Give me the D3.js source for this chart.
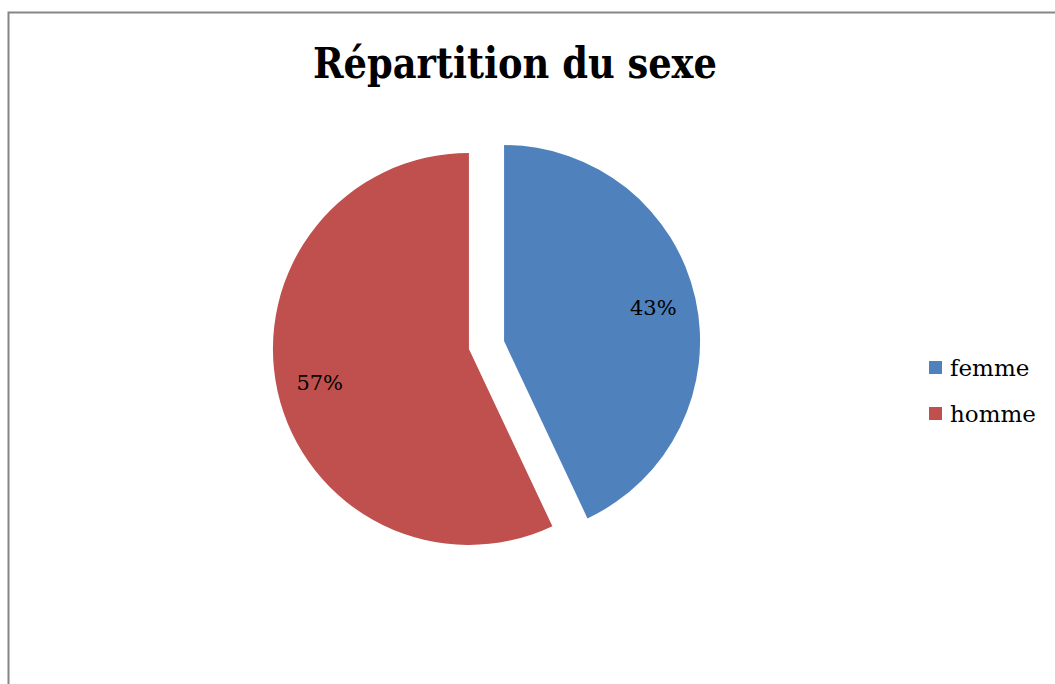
<!DOCTYPE html>
<html>
<head>
<meta charset="utf-8">
<script src="https://cdn.jsdelivr.net/npm/d3@7"></script>
<style>
  body { margin: 0; background: #fff; }
  svg { display: block; }
</style>
</head>
<body>
<script>
var categories = ["femme", "homme"];
var values = [43, 57];
var colors = ["#4F81BD", "#C0504D"];
var labels = ["43%", "57%"];

var width = 1055, height = 684;
var cx = 486.5, cy = 345, radius = 196, explode = 18;

var svg = d3.select("body").append("svg").attr("width", width).attr("height", height);

// chart frame
svg.append("rect").attr("x", 8.5).attr("y", 12.5).attr("width", 1100).attr("height", 700)
  .attr("fill", "#fff").attr("stroke", "#868686").attr("stroke-width", 2);

svg.append("text").attr("x", 313).attr("y", 78)
  .attr("textLength", 404).attr("lengthAdjust", "spacingAndGlyphs")
  .style("font-family", "'DejaVu Serif', serif").style("font-weight", "bold").style("font-size", "42px")
  .text("Répartition du sexe");

var pie = d3.pie().sort(null).value(function(d) { return d; });
var arcs = pie(values);
var arc = d3.arc().innerRadius(0).outerRadius(radius);
var labelArc = d3.arc().innerRadius(radius * 0.78).outerRadius(radius * 0.78);

var g = svg.append("g").attr("transform", "translate(" + cx + "," + cy + ")");

var slice = g.selectAll("g.slice").data(arcs).enter().append("g")
  .attr("transform", function(d) {
    var a = (d.startAngle + d.endAngle) / 2;
    return "translate(" + (Math.sin(a) * explode) + "," + (-Math.cos(a) * explode) + ")";
  });

slice.append("path").attr("d", arc).attr("fill", function(d, i) { return colors[i]; });

slice.append("text")
  .attr("transform", function(d) { return "translate(" + labelArc.centroid(d) + ")"; })
  .attr("text-anchor", "middle").attr("dy", "0.35em")
  .style("font-family", "'DejaVu Serif', serif").style("font-size", "21px").attr("fill", "#000")
  .text(function(d, i) { return labels[i]; });

var legend = svg.append("g").selectAll("g").data(categories).enter().append("g")
  .attr("transform", function(d, i) { return "translate(929," + (361 + i * 46) + ")"; });
legend.append("rect").attr("width", 13).attr("height", 13).attr("fill", function(d, i) { return colors[i]; });
legend.append("text").attr("x", 21).attr("y", 15)
  .style("font-family", "'DejaVu Serif', serif").style("font-size", "23px").text(function(d) { return d; });
</script>
</body>
</html>
